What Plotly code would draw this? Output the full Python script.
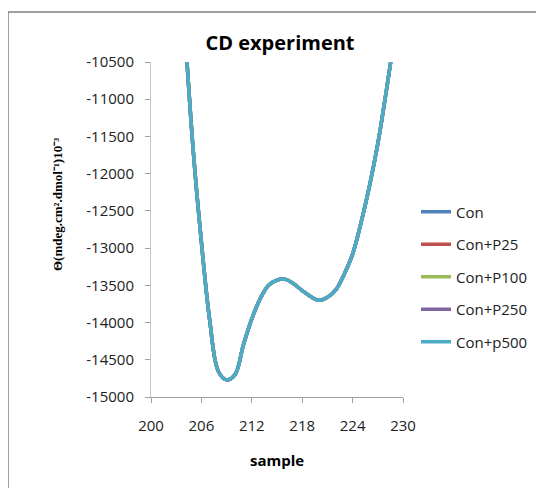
import plotly.graph_objects as go

wavelength = [204, 205, 206, 207, 208, 209, 210, 211, 212, 213, 214, 215, 216,
              217, 218, 219, 220, 221, 222, 223, 224, 225, 226, 227, 228, 229]
con = [-10000, -11650, -12920, -13980, -14650, -14770, -14700, -14300, -13950,
       -13680, -13500, -13430, -13420, -13480, -13570, -13650, -13700, -13660,
       -13560, -13350, -13080, -12660, -12170, -11600, -10900, -10150]
con_p25 = list(con)
con_p100 = list(con)
con_p250 = list(con)
con_p500 = list(con)

series_names = ["Con", "Con+P25", "Con+P100", "Con+P250", "Con+p500"]
series_values = [con, con_p25, con_p100, con_p250, con_p500]
colors = ["#4F81BD", "#C0504D", "#9BBB59", "#8064A2", "#4BACC6"]

x_ticks = [200, 206, 212, 218, 224, 230]
y_ticks = list(range(-15000, -10499, 500))
y_ticktext = [str(v) for v in y_ticks]

W, H = 544, 488
L, R, T, B = 143, 149, 54, 99
pw, ph = W - L - R, H - T - B

fig = go.Figure()
for i, (name, vals, c) in enumerate(zip(series_names, series_values, colors)):
    fig.add_trace(go.Scatter(x=wavelength, y=vals, name=name, mode="lines",
                             line=dict(color=c, width=3.5, shape="spline"),
                             legendgroup=f"g{i}"))

def px_to_paper_x(px):
    return (px - L) / pw

def px_to_paper_y(py):
    return (H - B - py) / ph

fig.update_layout(
    width=W, height=H,
    margin=dict(l=L, r=R, t=T, b=B),
    paper_bgcolor="white", plot_bgcolor="white",
    title=dict(text="<b>CD experiment</b>", x=272 / W, xanchor="center",
               y=1 - 35 / H, yanchor="middle",
               font=dict(family="Open Sans", size=20, color="black")),
    xaxis=dict(range=[200, 230], tickvals=x_ticks, ticks="outside", ticklen=5,
               tickcolor="#A0A0A0", showline=True, linecolor="#A0A0A0", linewidth=1,
               showgrid=False, zeroline=False, ticklabelstandoff=10,
               tickfont=dict(family="Open Sans", size=15, color="#222")),
    yaxis=dict(range=[-15000, -10500], tickvals=y_ticks, ticktext=y_ticktext,
               ticks="outside", ticklen=5,
               tickcolor="#A0A0A0", showline=True, linecolor="#C8C8C8", linewidth=1,
               showgrid=False, zeroline=False, ticklabelstandoff=8,
               tickfont=dict(family="Open Sans", size=15, color="#222")),
    legend=dict(x=px_to_paper_x(408), xanchor="left", y=px_to_paper_y(269), yanchor="middle",
                tracegroupgap=10, font=dict(family="Open Sans", size=15, color="#222"),
                bgcolor="rgba(0,0,0,0)"),
    showlegend=True,
    annotations=[
        dict(text="<b>sample</b>", xref="paper", yref="paper",
             x=px_to_paper_x(269), y=px_to_paper_y(452), xanchor="center", yanchor="middle",
             showarrow=False, font=dict(family="Open Sans", size=15, color="black")),
        dict(text="<b>Θ(mdeg.cm².dmol⁻¹)10⁻³</b>", xref="paper", yref="paper",
             x=px_to_paper_x(49), y=px_to_paper_y(197), xanchor="center", yanchor="middle",
             textangle=-90, showarrow=False,
             font=dict(family="Liberation Serif", size=13, color="black")),
    ],
    shapes=[
        dict(type="line", xref="paper", yref="paper",
             x0=px_to_paper_x(0), x1=px_to_paper_x(W + 2),
             y0=px_to_paper_y(4), y1=px_to_paper_y(4),
             line=dict(color="#808080", width=1.5)),
        dict(type="line", xref="paper", yref="paper",
             x0=px_to_paper_x(0), x1=px_to_paper_x(0),
             y0=px_to_paper_y(4), y1=px_to_paper_y(H + 2),
             line=dict(color="#808080", width=1.5)),
    ],
)

fig.write_html("out.html")
